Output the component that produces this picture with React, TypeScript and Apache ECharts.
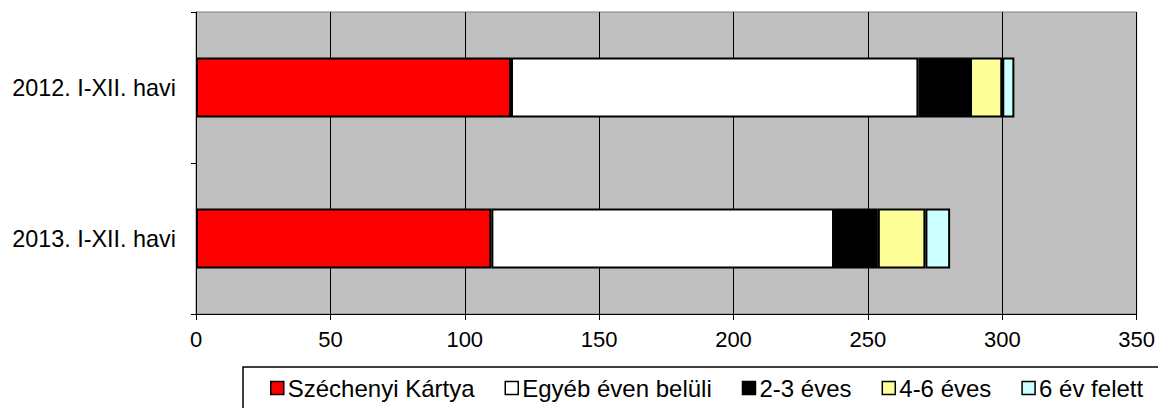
import React, { useEffect, useRef } from "react";
import * as echarts from "echarts";

const categories = ["2012. I-XII. havi", "2013. I-XII. havi"];
const seriesNames = ["Széchenyi Kártya", "Egyéb éven belüli", "2-3 éves", "4-6 éves", "6 év felett"];
const szechenyi = [117.2, 109.9];
const egyeb = [151.6, 127.5];
const ket3 = [19.2, 16.3];
const negy6 = [12.0, 17.7];
const hat = [4.5, 9.2];
const xTicks = { min: 0, max: 350, interval: 50 };
const colors = ["#FF0000", "#FFFFFF", "#000000", "#FFFF99", "#CCFFFF"];

export default function App() {
  const ref = useRef<HTMLDivElement>(null);
  useEffect(() => {
    if (!ref.current) return;
    const chart = echarts.init(ref.current, undefined, { renderer: "svg" });
    const values = [szechenyi, egyeb, ket3, negy6, hat];
    const font = "Liberation Sans, Arial, sans-serif";
    chart.setOption({
      animation: false,
      textStyle: { fontFamily: font },
      grid: {
        left: 196,
        top: 12,
        width: 941.5,
        height: 302,
        show: true,
        backgroundColor: "#C0C0C0",
        borderColor: "#808080",
        borderWidth: 1,
      },
      xAxis: {
        type: "value",
        min: xTicks.min,
        max: xTicks.max,
        interval: xTicks.interval,
        axisLine: { show: true, lineStyle: { color: "#000", width: 1 } },
        axisTick: { show: true, length: 6, lineStyle: { color: "#000" } },
        axisLabel: { fontSize: 22, color: "#000", margin: 14, fontFamily: font },
        splitLine: { show: true, lineStyle: { color: "#000", width: 1 } },
      },
      yAxis: {
        type: "category",
        data: categories,
        inverse: true,
        axisLine: { show: true, lineStyle: { color: "#000", width: 1 } },
        axisTick: { show: true, length: 5, lineStyle: { color: "#000" } },
        axisLabel: { fontSize: 23.4, color: "#000", margin: 20, fontFamily: font },
        splitLine: { show: false },
      },
      legend: {
        left: 270,
        top: 376,
        padding: 0,
        itemWidth: 13,
        itemHeight: 13,
        itemGap: 30,
        icon: "rect",
        itemStyle: { borderColor: "#000", borderWidth: 1.5 },
        textStyle: { fontSize: 24, color: "#000", fontFamily: font, padding: [0, 0, 0, -1] },
        data: seriesNames,
      },
      graphic: [
        {
          type: "rect",
          shape: { x: 243, y: 367, width: 1000, height: 100 },
          style: { fill: "none", stroke: "#000", lineWidth: 1.5 },
          silent: true,
        },
      ],
      series: seriesNames.map((name, i) => ({
        name,
        type: "bar",
        stack: "total",
        barWidth: 60,
        data: values[i],
        itemStyle: { color: colors[i], borderColor: "#000", borderWidth: 2 },
      })),
    });
    return () => chart.dispose();
  }, []);
  return (
    <div
      ref={ref}
      style={{ position: "fixed", left: 0, top: 0, width: 1158, height: 408, background: "#fff" }}
    />
  );
}
